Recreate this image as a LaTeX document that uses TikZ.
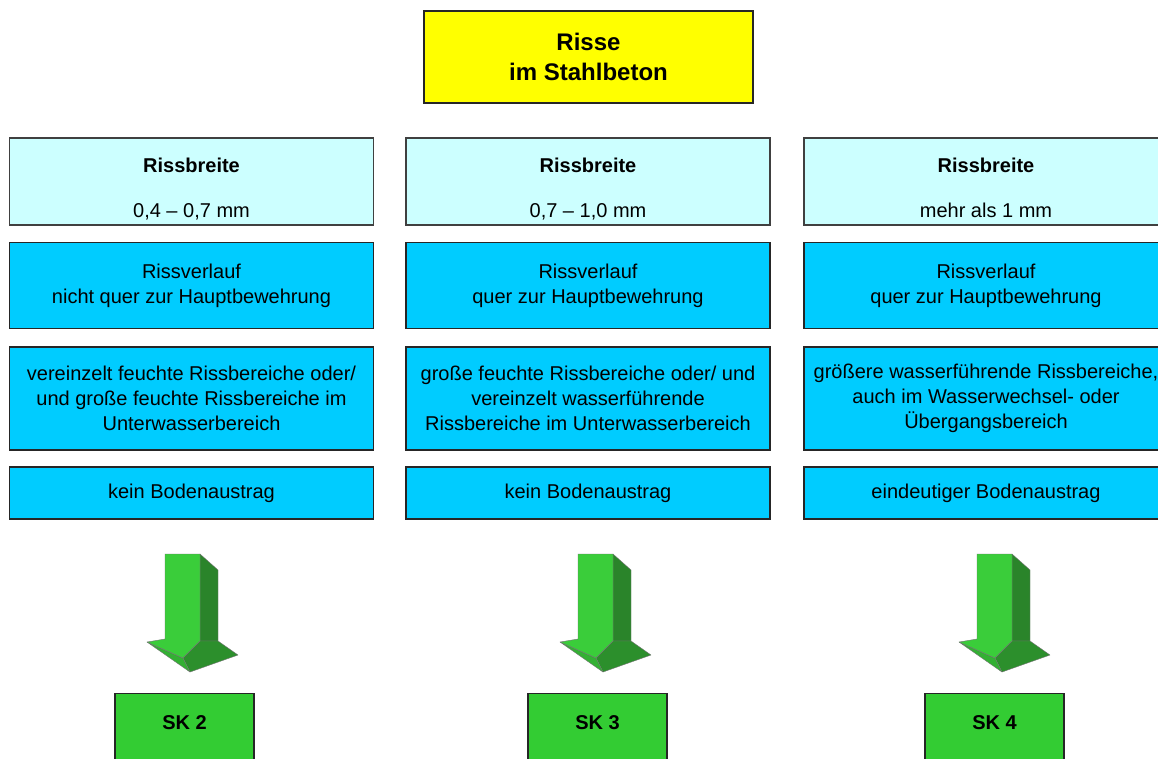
\documentclass[tikz,border=0pt]{standalone}
\usepackage{fontspec}
\setmainfont{Liberation Sans}
\begin{document}
\begin{tikzpicture}[x=1pt,y=-1pt,
  boxbase/.style={draw=black!85, line width=1.3pt, rectangle, inner sep=0pt, align=center,
    font=\fontsize{20}{25}\selectfont},
  topbox/.style={boxbase, fill=yellowtop, minimum width=329pt, minimum height=92pt,
    font=\fontsize{24}{30}\selectfont\bfseries},
  widthbox/.style={boxbase, fill=lightc, draw=black!75, line width=1.1pt, minimum width=364pt, minimum height=87pt},
  widthtext/.style={anchor=base, inner sep=0pt, font=\fontsize{20}{25}\selectfont},
  cyanbox/.style={boxbase, fill=cyanc, minimum width=364pt},
  skbox/.style={boxbase, fill=skgreen, minimum width=139pt, minimum height=72pt},
  sklabel/.style={font=\fontsize{20}{25}\selectfont\bfseries, inner sep=0pt},
  arrface/.style={draw=black!55, line width=0.4pt, line join=round}
]
\definecolor{yellowtop}{HTML}{FFFF00}
\definecolor{lightc}{HTML}{CCFFFF}
\definecolor{cyanc}{HTML}{00CCFF}
\definecolor{skgreen}{HTML}{33CC33}
\definecolor{arrlight}{HTML}{3ACD3A}
\definecolor{arrdark}{HTML}{2A842A}
\definecolor{arrbottom}{HTML}{2C8F2C}
\definecolor{arrmid}{HTML}{33B033}

\useasboundingbox (0,0) rectangle (1158,758);
\clip (0,0) rectangle (1158,758);
\fill[white] (0,0) rectangle (1158,758);

% title
\node[topbox] (title) at (588.5,57) {Risse\\im Stahlbeton};

% row 1: Rissbreite
\node[widthbox] (w1) at (191.5,181.5) {};
\node[widthbox] (w2) at (588,181.5) {};
\node[widthbox] (w3) at (986,181.5) {};
\node[widthtext, font=\fontsize{20}{25}\selectfont\bfseries] (w1a) at (191.5,172) {Rissbreite};
\node[widthtext] (w1b) at (191.5,217) {0,4 – 0,7 mm};
\node[widthtext, font=\fontsize{20}{25}\selectfont\bfseries] (w2a) at (588,172) {Rissbreite};
\node[widthtext] (w2b) at (588,217) {0,7 – 1,0 mm};
\node[widthtext, font=\fontsize{20}{25}\selectfont\bfseries] (w3a) at (986,172) {Rissbreite};
\node[widthtext] (w3b) at (986,217) {mehr als 1 mm};

% row 2: Rissverlauf
\node[cyanbox, minimum height=86pt] (v1) at (191.5,285.5) {Rissverlauf\\nicht quer zur Hauptbewehrung};
\node[cyanbox, minimum height=86pt] (v2) at (588,285.5) {Rissverlauf\\quer zur Hauptbewehrung};
\node[cyanbox, minimum height=86pt] (v3) at (986,285.5) {Rissverlauf\\quer zur Hauptbewehrung};

% row 3: Feuchte
\node[cyanbox, minimum height=103pt] (f1) at (191.5,398.5) {vereinzelt feuchte Rissbereiche oder/\\und große feuchte Rissbereiche im\\Unterwasserbereich};
\node[cyanbox, minimum height=103pt] (f2) at (588,398.5) {große feuchte Rissbereiche oder/ und\\vereinzelt wasserführende\\Rissbereiche im Unterwasserbereich};
\node[cyanbox, minimum height=103pt] (f3) at (986,398.5) {größere wasserführende Rissbereiche,\\auch im Wasserwechsel- oder\\Übergangsbereich};

% row 4: Bodenaustrag
\node[cyanbox, minimum height=52pt] (b1) at (191.5,493) {kein Bodenaustrag};
\node[cyanbox, minimum height=52pt] (b2) at (588,493) {kein Bodenaustrag};
\node[cyanbox, minimum height=52pt] (b3) at (986,493) {eindeutiger Bodenaustrag};

% 3D arrows
\foreach \dx in {0,413,812}{
  \begin{scope}[xshift=\dx pt]
    \filldraw[arrface, fill=arrdark] (200,554) -- (218,570) -- (218,641) -- (200,641) -- cycle;
    \filldraw[arrface, fill=arrbottom] (183,658) -- (200,641) -- (218,641) -- (238,655) -- (190,672) -- cycle;
    \filldraw[arrface, fill=arrmid] (147,642) -- (183,658) -- (190,672) -- cycle;
    \filldraw[arrface, fill=arrlight] (165,554) -- (200,554) -- (200,641) -- (183,658) -- (147,642) -- (165,639) -- cycle;
  \end{scope}
}

% result boxes
\node[skbox, anchor=north] (sk2) at (184.5,693) {};
\node[sklabel, yshift=7pt] (sk2t) at (sk2.center) {SK 2};
\node[skbox, anchor=north] (sk3) at (597.5,693) {};
\node[sklabel, yshift=7pt] (sk3t) at (sk3.center) {SK 3};
\node[skbox, anchor=north] (sk4) at (994.5,693) {};
\node[sklabel, yshift=7pt] (sk4t) at (sk4.center) {SK 4};
\end{tikzpicture}
\end{document}
